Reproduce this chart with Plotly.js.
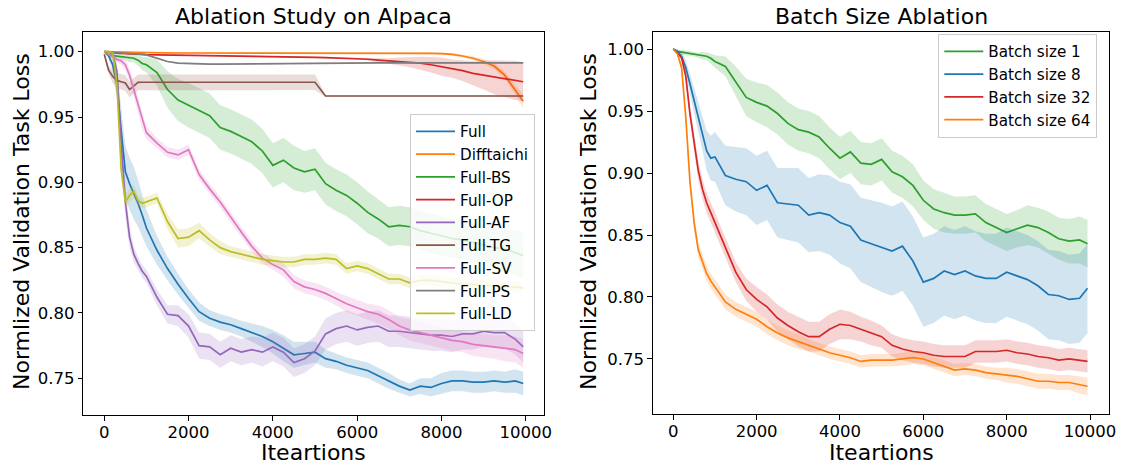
<!DOCTYPE html>
<html><head><meta charset="utf-8">
<script src="https://cdn.plot.ly/plotly-3.0.1.min.js"></script>
<style>html,body{margin:0;padding:0;background:#fff}#chart{width:1123px;height:465px}</style>
</head><body><div id="chart"></div>
<script>
// ---------- shared iteration grid ----------
const iters = [0,100,200,300,400,500,600,700,800,900,1000,1250,1500,1750,2000,2250,2500,2750,3000,3250,3500,3750,4000,4250,4500,4750,5000,5250,5500,5750,6000,6250,6500,6750,7000,7250,7500,7750,8000,8250,8500,8750,9000,9250,9500,9750,9940];

// ---------- left: Ablation Study on Alpaca ----------
const leftNames = ["Full","Difftaichi","Full-BS","Full-OP","Full-AF","Full-TG","Full-SV","Full-PS","Full-LD"];

const full = [1.000,0.997,0.990,0.975,0.940,0.908,0.899,0.892,0.884,0.875,0.865,0.848,0.834,0.822,0.811,0.801,0.796,0.793,0.791,0.788,0.785,0.782,0.778,0.773,0.768,0.769,0.770,0.765,0.763,0.760,0.758,0.756,0.752,0.748,0.744,0.741,0.744,0.743,0.746,0.748,0.748,0.747,0.747,0.748,0.747,0.748,0.746];
const fullBand = [0,0.002,0.005,0.012,0.018,0.020,0.020,0.020,0.018,0.016,0.014,0.011,0.009,0.008,0.007,0.007,0.006,0.006,0.006,0.006,0.007,0.008,0.009,0.010,0.010,0.009,0.008,0.007,0.006,0.006,0.006,0.006,0.006,0.006,0.005,0.005,0.006,0.007,0.008,0.008,0.008,0.008,0.008,0.008,0.008,0.009,0.009];

const difftaichi = [1.000,1.000,1.000,0.9998,0.9997,0.9996,0.9995,0.9995,0.9994,0.9993,0.9993,0.9992,0.9991,0.9990,0.9990,0.9989,0.9988,0.9988,0.9988,0.9988,0.9989,0.9989,0.9989,0.9990,0.9990,0.9990,0.9990,0.9991,0.9991,0.9991,0.9991,0.9990,0.9990,0.9990,0.9990,0.9990,0.9988,0.9987,0.9985,0.9980,0.9967,0.9950,0.9925,0.9890,0.9820,0.9710,0.9620];
const difftaichiBand = [0,0,0,0,0,0.0005,0.0005,0.0005,0.0005,0.0005,0.0005,0.0005,0.0005,0.0005,0.0005,0.0005,0.0005,0.0005,0.0005,0.0005,0.0005,0.0005,0.0005,0.0005,0.0005,0.0005,0.0005,0.0005,0.0005,0.0005,0.0005,0.0005,0.0005,0.0005,0.0005,0.0005,0.0006,0.0007,0.0008,0.001,0.0012,0.0015,0.002,0.0025,0.003,0.004,0.005];

const fullBS = [1.000,0.9975,0.997,0.9965,0.996,0.9955,0.995,0.995,0.9935,0.991,0.990,0.984,0.971,0.963,0.959,0.955,0.951,0.942,0.939,0.935,0.931,0.924,0.913,0.917,0.911,0.908,0.910,0.899,0.894,0.890,0.884,0.877,0.872,0.866,0.867,0.866,0.863,0.861,0.859,0.857,0.856,0.854,0.852,0.850,0.849,0.846,0.844];
const fullBSBand = [0,0.001,0.002,0.002,0.002,0.002,0.003,0.003,0.004,0.005,0.006,0.010,0.014,0.016,0.017,0.017,0.017,0.017,0.017,0.017,0.017,0.017,0.017,0.017,0.017,0.016,0.016,0.016,0.016,0.016,0.016,0.016,0.015,0.015,0.015,0.015,0.015,0.015,0.015,0.015,0.015,0.015,0.015,0.015,0.016,0.017,0.018];

const fullOP = [1.000,0.9995,0.999,0.9988,0.9986,0.9984,0.9982,0.998,0.9979,0.9978,0.9977,0.9976,0.9975,0.9974,0.9973,0.9972,0.9970,0.9968,0.9967,0.9966,0.9965,0.9964,0.9963,0.9962,0.9960,0.9958,0.9956,0.9954,0.9952,0.9950,0.9948,0.9942,0.9935,0.9930,0.9925,0.9920,0.9912,0.9900,0.9885,0.9870,0.9855,0.9834,0.9820,0.9805,0.9792,0.9780,0.9770];
const fullOPBand = [0,0.0005,0.0005,0.0005,0.0005,0.0005,0.0005,0.0005,0.0005,0.0005,0.0005,0.0005,0.0005,0.0005,0.0005,0.0005,0.0005,0.0005,0.0005,0.0005,0.0005,0.0005,0.0005,0.0005,0.0005,0.0005,0.0005,0.0005,0.0005,0.0005,0.0005,0.001,0.0015,0.002,0.003,0.004,0.005,0.006,0.007,0.007,0.008,0.009,0.011,0.013,0.014,0.015,0.015];

const fullAF = [1.000,1.000,0.998,0.985,0.930,0.885,0.858,0.845,0.838,0.832,0.828,0.812,0.799,0.798,0.790,0.775,0.774,0.768,0.773,0.770,0.772,0.770,0.774,0.770,0.762,0.765,0.771,0.784,0.788,0.790,0.787,0.789,0.790,0.786,0.786,0.785,0.784,0.783,0.783,0.782,0.784,0.784,0.786,0.785,0.785,0.780,0.774];
const fullAFBand = [0,0,0.002,0.010,0.015,0.012,0.008,0.006,0.005,0.005,0.005,0.006,0.007,0.008,0.009,0.010,0.010,0.010,0.010,0.010,0.010,0.011,0.011,0.011,0.011,0.011,0.011,0.012,0.012,0.012,0.012,0.012,0.012,0.012,0.012,0.012,0.012,0.012,0.012,0.012,0.012,0.012,0.012,0.012,0.012,0.012,0.012];

const fullTG = [0.998,0.986,0.981,0.978,0.977,0.976,0.971,0.974,0.9765,0.9766,0.9766,0.9766,0.9766,0.9766,0.9766,0.9766,0.9766,0.9766,0.9766,0.9766,0.9766,0.9766,0.9766,0.9766,0.9766,0.9766,0.9766,0.9661,0.9661,0.9661,0.9661,0.9661,0.9661,0.9661,0.9661,0.9661,0.9661,0.9661,0.9661,0.9661,0.9661,0.9661,0.9661,0.9661,0.9661,0.9661,0.9661];
const fullTGBand = [0,0.003,0.005,0.006,0.006,0.006,0.006,0.006,0.006,0.006,0.006,0.006,0.006,0.006,0.006,0.006,0.006,0.006,0.006,0.006,0.006,0.006,0.006,0.006,0.006,0.006,0.006,0.0008,0.0008,0.0008,0.0008,0.0008,0.0008,0.0008,0.0008,0.0008,0.0008,0.0008,0.0008,0.0008,0.0008,0.0008,0.0008,0.0008,0.0008,0.0008,0.0008];

const fullSV = [1.000,0.998,0.996,0.994,0.993,0.990,0.982,0.971,0.958,0.947,0.938,0.930,0.923,0.921,0.925,0.906,0.895,0.885,0.873,0.862,0.851,0.842,0.837,0.833,0.824,0.820,0.818,0.815,0.811,0.807,0.804,0.801,0.799,0.795,0.790,0.787,0.785,0.783,0.781,0.779,0.778,0.776,0.775,0.774,0.773,0.772,0.769];
const fullSVBand = [0,0.001,0.002,0.002,0.003,0.004,0.005,0.006,0.006,0.006,0.005,0.004,0.004,0.004,0.004,0.004,0.004,0.004,0.004,0.004,0.004,0.004,0.004,0.005,0.005,0.005,0.005,0.005,0.005,0.006,0.006,0.006,0.007,0.007,0.007,0.008,0.008,0.008,0.008,0.008,0.008,0.009,0.009,0.009,0.010,0.010,0.011];

const fullPS = [1.000,0.9995,0.9993,0.9992,0.999,0.9989,0.9988,0.9987,0.9985,0.998,0.9975,0.995,0.9925,0.9912,0.9908,0.9906,0.9905,0.9905,0.9906,0.9907,0.9907,0.9908,0.9909,0.991,0.9911,0.9912,0.9912,0.9913,0.9913,0.9914,0.9914,0.9915,0.9915,0.9915,0.9915,0.9915,0.9915,0.9915,0.9915,0.9915,0.9915,0.9915,0.9915,0.9915,0.9915,0.9915,0.9915];
const fullPSBand = [0,0.0003,0.0003,0.0003,0.0003,0.0003,0.0003,0.0003,0.0003,0.0004,0.0005,0.0006,0.0006,0.0005,0.0005,0.0005,0.0005,0.0005,0.0005,0.0005,0.0005,0.0005,0.0005,0.0005,0.0005,0.0005,0.0005,0.0005,0.0005,0.0005,0.0005,0.0005,0.0005,0.0005,0.0005,0.0005,0.0005,0.0005,0.0005,0.0005,0.0005,0.0005,0.0005,0.0005,0.0005,0.0005,0.0005];

const fullLD = [1.000,1.000,0.999,0.975,0.910,0.885,0.890,0.893,0.886,0.884,0.885,0.888,0.870,0.857,0.858,0.863,0.856,0.850,0.847,0.845,0.843,0.841,0.840,0.839,0.839,0.841,0.841,0.842,0.841,0.834,0.836,0.834,0.830,0.826,0.826,0.823,0.825,0.825,0.824,0.823,0.822,0.822,0.821,0.821,0.820,0.820,0.819];
const fullLDBand = [0,0,0.001,0.006,0.008,0.006,0.005,0.005,0.004,0.004,0.004,0.004,0.006,0.007,0.007,0.006,0.005,0.005,0.004,0.004,0.004,0.004,0.004,0.004,0.004,0.004,0.004,0.004,0.004,0.004,0.004,0.004,0.004,0.004,0.004,0.004,0.004,0.004,0.004,0.004,0.004,0.004,0.004,0.004,0.004,0.004,0.004];

// ---------- right: Batch Size Ablation ----------
const rightNames = ["Batch size 1","Batch size 8","Batch size 32","Batch size 64"];

const bs1 = [1.000,0.998,0.9975,0.997,0.9965,0.996,0.995,0.9948,0.9942,0.9925,0.990,0.986,0.974,0.961,0.957,0.954,0.948,0.940,0.935,0.933,0.929,0.920,0.912,0.917,0.908,0.907,0.911,0.901,0.897,0.890,0.878,0.871,0.868,0.866,0.866,0.867,0.860,0.856,0.852,0.855,0.858,0.856,0.852,0.847,0.845,0.846,0.843];
const bs1Band = [0,0.001,0.002,0.002,0.002,0.002,0.002,0.003,0.003,0.004,0.005,0.008,0.012,0.015,0.016,0.017,0.017,0.017,0.017,0.017,0.017,0.017,0.017,0.017,0.017,0.017,0.017,0.017,0.017,0.017,0.016,0.016,0.016,0.015,0.015,0.015,0.015,0.015,0.015,0.015,0.016,0.016,0.017,0.017,0.018,0.019,0.019];

const bs8 = [1.000,0.998,0.994,0.985,0.972,0.958,0.945,0.932,0.918,0.912,0.913,0.898,0.895,0.893,0.886,0.890,0.876,0.875,0.874,0.866,0.868,0.866,0.860,0.857,0.846,0.843,0.840,0.837,0.841,0.829,0.812,0.815,0.821,0.818,0.821,0.817,0.815,0.815,0.820,0.817,0.814,0.809,0.802,0.801,0.798,0.799,0.807];
const bs8Band = [0,0.002,0.004,0.006,0.008,0.010,0.012,0.014,0.016,0.018,0.020,0.024,0.026,0.027,0.028,0.028,0.028,0.029,0.030,0.030,0.031,0.032,0.033,0.034,0.034,0.035,0.036,0.036,0.036,0.036,0.036,0.036,0.036,0.036,0.036,0.036,0.036,0.036,0.036,0.036,0.036,0.036,0.036,0.036,0.036,0.036,0.036];

const bs32 = [1.000,0.997,0.993,0.978,0.948,0.924,0.902,0.887,0.876,0.868,0.860,0.840,0.820,0.806,0.798,0.792,0.783,0.777,0.772,0.768,0.768,0.774,0.778,0.777,0.774,0.771,0.768,0.761,0.758,0.756,0.755,0.753,0.752,0.752,0.752,0.756,0.756,0.756,0.757,0.755,0.754,0.752,0.751,0.749,0.750,0.749,0.748];
const bs32Band = [0,0.001,0.002,0.004,0.006,0.007,0.008,0.008,0.008,0.008,0.008,0.008,0.008,0.009,0.010,0.010,0.011,0.011,0.012,0.012,0.012,0.012,0.012,0.011,0.010,0.010,0.009,0.009,0.009,0.009,0.009,0.009,0.009,0.009,0.009,0.009,0.009,0.009,0.009,0.009,0.009,0.009,0.009,0.009,0.009,0.009,0.009];

const bs64 = [1.000,0.996,0.985,0.945,0.893,0.860,0.838,0.828,0.819,0.813,0.808,0.796,0.790,0.786,0.782,0.776,0.771,0.767,0.764,0.761,0.758,0.755,0.753,0.751,0.748,0.749,0.749,0.749,0.750,0.751,0.750,0.747,0.744,0.741,0.742,0.741,0.739,0.738,0.737,0.736,0.734,0.732,0.732,0.731,0.731,0.729,0.728];
const bs64Band = [0,0.001,0.003,0.005,0.006,0.006,0.006,0.006,0.006,0.006,0.006,0.006,0.006,0.006,0.006,0.006,0.006,0.006,0.006,0.005,0.005,0.005,0.005,0.005,0.005,0.005,0.005,0.005,0.005,0.005,0.005,0.005,0.005,0.005,0.005,0.005,0.005,0.005,0.006,0.006,0.006,0.006,0.006,0.006,0.006,0.007,0.007];

// ---------- tick labels ----------
const xTicks = [0,2000,4000,6000,8000,10000];
const yTicks = [0.75,0.80,0.85,0.90,0.95,1.00];

// ---------- styles ----------
const C = {blue:'#1f77b4',orange:'#ff7f0e',green:'#2ca02c',red:'#d62728',purple:'#9467bd',brown:'#8c564b',pink:'#e377c2',gray:'#7f7f7f',olive:'#bcbd22'};
function rgba(hex,a){const n=parseInt(hex.slice(1),16);return `rgba(${n>>16&255},${n>>8&255},${n&255},${a})`;}

const leftSeries = [
  [full,fullBand,C.blue],[difftaichi,difftaichiBand,C.orange],[fullBS,fullBSBand,C.green],
  [fullOP,fullOPBand,C.red],[fullAF,fullAFBand,C.purple],[fullTG,fullTGBand,C.brown],
  [fullSV,fullSVBand,C.pink],[fullPS,fullPSBand,C.gray],[fullLD,fullLDBand,C.olive]
];
const rightSeries = [[bs1,bs1Band,C.green],[bs8,bs8Band,C.blue],[bs32,bs32Band,C.red],[bs64,bs64Band,C.orange]];

const traces = [];
function addSeries(list,names,xa,ya,leg){
  list.forEach((s,i)=>{
    const [y,b,col] = s;
    traces.push({type:'scatter',mode:'lines',x:iters,y:y,name:names[i],xaxis:xa,yaxis:ya,legend:leg,
      line:{color:col,width:1.7},hoverinfo:'skip'});
    const up = y.map((v,k)=>v+b[k]), lo = y.map((v,k)=>v-b[k]);
    traces.push({type:'scatter',mode:'lines',x:iters.concat(iters.slice().reverse()),
      y:up.concat(lo.slice().reverse()),fill:'toself',fillcolor:rgba(col,0.2),
      line:{width:0,color:'rgba(0,0,0,0)'},xaxis:xa,yaxis:ya,showlegend:false,hoverinfo:'skip'});
  });
}
addSeries(leftSeries,leftNames,'x','y','legend');
addSeries(rightSeries,rightNames,'x2','y2','legend2');

const W=1123,H=465;
const ax = {showline:true,mirror:true,linecolor:'black',linewidth:1,ticks:'outside',ticklen:4.5,tickwidth:1,tickcolor:'black',
  showgrid:false,zeroline:false,automargin:false,tickfont:{family:'DejaVu Sans',size:16.5,color:'black'}};
const legendStyle = {xanchor:'left',yanchor:'top',bgcolor:'rgba(255,255,255,0.8)',bordercolor:'#cccccc',borderwidth:1,
  font:{family:'DejaVu Sans',size:15.2,color:'black'},tracegroupgap:0,itemwidth:39};

const titleFont = {size:22,family:'DejaVu Sans',color:'black'};
const layout = {
  width:W,height:H,margin:{l:0,r:0,t:0,b:0},paper_bgcolor:'white',plot_bgcolor:'white',
  font:{family:'DejaVu Sans',color:'black'},
  xaxis:Object.assign({},ax,{domain:[83.3/W,544.3/W],range:[-498,10441],anchor:'y',tickvals:xTicks,ticktext:xTicks.map(String),ticklabelstandoff:-2}),
  yaxis:Object.assign({},ax,{domain:[1-415/H,1-31.7/H],range:[0.7219,1.0153],anchor:'x',tickvals:yTicks,ticktext:yTicks.map(v=>v.toFixed(2))}),
  xaxis2:Object.assign({},ax,{domain:[652.7/W,1109.3/W],range:[-494,10463],anchor:'y2',tickvals:xTicks,ticktext:xTicks.map(String),ticklabelstandoff:-2}),
  yaxis2:Object.assign({},ax,{domain:[1-414/H,1-31.7/H],range:[0.7056,1.0140],anchor:'x2',tickvals:yTicks,ticktext:yTicks.map(v=>v.toFixed(2))}),
  legend:Object.assign({},legendStyle,{x:410/W,y:1-114/H}),
  legend2:Object.assign({},legendStyle,{x:938.3/W,y:1-34/H}),
  annotations:[
    {text:'Ablation Study on Alpaca',xref:'paper',yref:'paper',x:313.8/W,y:1-16/H,xanchor:'center',yanchor:'middle',showarrow:false,font:titleFont},
    {text:'Batch Size Ablation',xref:'paper',yref:'paper',x:881/W,y:1-16/H,xanchor:'center',yanchor:'middle',showarrow:false,font:titleFont},
    {text:'Iteartions',xref:'paper',yref:'paper',x:313.8/W,y:1-452/H,xanchor:'center',yanchor:'middle',showarrow:false,font:titleFont},
    {text:'Iteartions',xref:'paper',yref:'paper',x:881/W,y:1-452/H,xanchor:'center',yanchor:'middle',showarrow:false,font:titleFont},
    {text:'Normlized Validation Task Loss',xref:'paper',yref:'paper',x:21/W,y:1-222/H,xanchor:'center',yanchor:'middle',textangle:-90,showarrow:false,font:titleFont},
    {text:'Normlized Validation Task Loss',xref:'paper',yref:'paper',x:588/W,y:1-222/H,xanchor:'center',yanchor:'middle',textangle:-90,showarrow:false,font:titleFont}
  ]
};
Plotly.newPlot('chart',traces,layout,{staticPlot:true,displayModeBar:false});
</script></body></html>
